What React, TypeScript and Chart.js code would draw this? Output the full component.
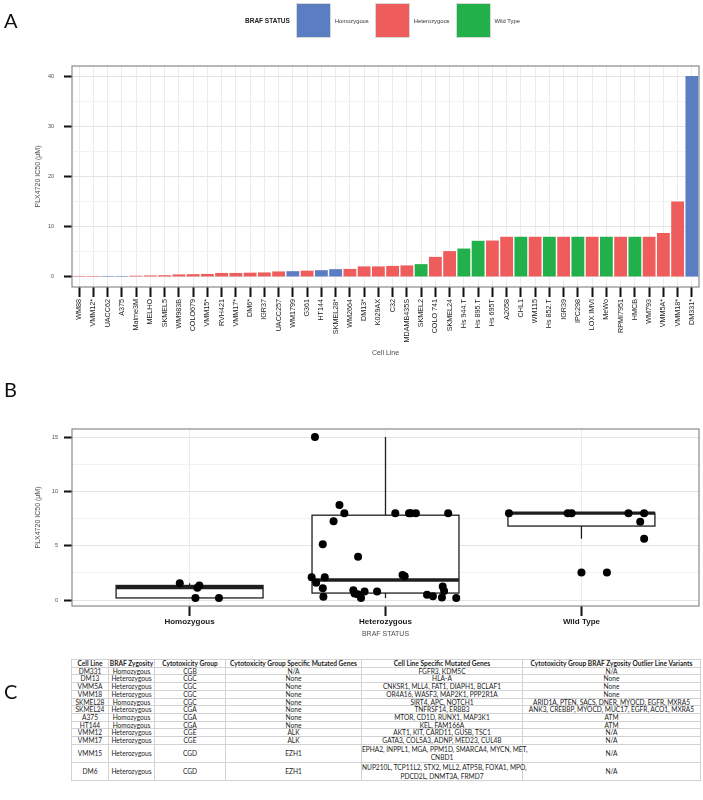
import React, { useEffect, useRef } from "react";
import { Chart, registerables } from "chart.js";
Chart.register(...registerables);

// ---------- Panel A data ----------
const cellLines = ["WM88","VMM12*","UACC62","A375","Malme3M","MELHO","SKMEL5","WM983B","COLO679","VMM15*","RVH421","VMM17*","DM6*","IGR37","UACC257","WM1799","G361","HT144","SKMEL28*","WM2664","DM13*","K029AX","C32","MDAMB435S","SKMEL2","COLO 741","SKMEL24","Hs 944.T","Hs 895.T","Hs 695T","A2058","CHL1","WM115","Hs 852.T","IGR39","IPC298","LOX IMVI","MeWo","RPMI7951","HMCB","WM793","VMM5A*","VMM18*","DM331*"];
const ic50 = [0.2,0.2,0.2,0.2,0.25,0.3,0.35,0.5,0.55,0.6,0.8,0.8,0.85,0.9,1.1,1.15,1.25,1.35,1.55,1.6,2.1,2.1,2.2,2.3,2.55,4.0,5.15,5.65,7.2,7.25,8,8,8,8,8,8,8,8,8,8,8,8.75,15,40];
const brafStatus = ["Heterozygous","Heterozygous","Homozygous","Homozygous","Heterozygous","Heterozygous","Heterozygous","Heterozygous","Heterozygous","Heterozygous","Heterozygous","Heterozygous","Heterozygous","Heterozygous","Heterozygous","Homozygous","Heterozygous","Homozygous","Homozygous","Heterozygous","Heterozygous","Heterozygous","Heterozygous","Heterozygous","Wild Type","Heterozygous","Heterozygous","Wild Type","Wild Type","Heterozygous","Heterozygous","Wild Type","Heterozygous","Wild Type","Heterozygous","Wild Type","Heterozygous","Wild Type","Heterozygous","Wild Type","Heterozygous","Heterozygous","Heterozygous","Homozygous"];
const statusNames = ["Homozygous","Heterozygous","Wild Type"];
const statusColors = ["#5b7dc2","#ee5c5b","#22b04b"];
const yTicksA = [0,5,10,15,20,25,30,35,40];

// ---------- Panel B data ----------
const homValues = [1.55,1.15,1.35,0.2,0.2];
const homJitter = [-0.05,0.04,0.05,0.03,0.15];
const hetValues = [15,8.75,8,7.25,5.15,4.0,8,8,8,8,8,2.3,2.2,2.1,2.1,1.6,1.1,1.25,0.9,0.85,0.8,0.8,0.6,0.55,0.5,0.35,0.3,0.25,0.2,0.2];
const hetJitter = [-0.36,-0.235,-0.21,-0.265,-0.32,-0.14,0.05,0.12,0.13,0.155,0.32,0.087,0.098,-0.377,-0.31,-0.354,-0.32,0.292,-0.164,0.299,-0.043,-0.107,-0.158,-0.142,0.212,0.242,-0.317,0.288,0.361,-0.125];
const wtValues = [8,8,8,8,8,7.2,5.65,2.55];
const wtJitter = [-0.37,-0.07,-0.05,0.24,0.32,0.30,0.32,0.13];
const yTicksB = [0,2.5,5,7.5,10,12.5,15];

// ---------- Panel C data ----------
const tableHeader = ["Cell Line","BRAF Zygosity","Cytotoxicity Group","Cytotoxicity Group Specific Mutated Genes","Cell Line Specific Mutated Genes","Cytotoxicity Group BRAF Zygosity Outlier Line Variants"];
const tCellLine = ["DM331","DM13","VMM5A","VMM18","SKMEL28","SKMEL24","A375","HT144","VMM12","VMM17","VMM15","DM6"];
const tZygosity = ["Homozygous","Heterozygous","Heterozygous","Heterozygous","Homozygous","Heterozygous","Homozygous","Homozygous","Heterozygous","Heterozygous","Heterozygous","Heterozygous"];
const tGroup = ["CGB","CGC","CGC","CGC","CGC","CGA","CGA","CGA","CGE","CGE","CGD","CGD"];
const tGroupGenes = ["N/A","None","None","None","None","None","None","None","ALK","ALK","EZH1","EZH1"];
const tLineGenes = ["FGFR3, KDM5C","HLA-A","CNKSR1, MLL4, FAT1, DIAPH1, BCLAF1","OR4A16, WASF3, MAP2K1, PPP2R1A","SIRT4,  APC, NOTCH1","TNFRSF14, ERBB3","MTOR, CD1D, RUNX1, MAP3K1","KEL, FAM166A","AKT1, KIT, CARD11, GUSB, TSC1","GATA3, COL5A3, ADNP, MED23, CUL4B","EPHA2, INPPL1, MGA, PPM1D, SMARCA4, MYCN, MET,\nCNBD1","NUP210L, TCP11L2, STX2, MLL2, ATP5B, FOXA1, MPO,\nPDCD2L, DNMT3A, FRMD7"];
const tOutlier = ["N/A","None","None","None","ARID1A, PTEN, SACS, DNER, MYOCD, EGFR, MXRA5","ANK3, CREBBP, MYOCD, MUC17, EGFR, ACO1, MXRA5","ATM","ATM","N/A","N/A","N/A","N/A"];
const colWidths = [37,46,71,136,161,178];

const FONT = "'Liberation Sans', Arial, sans-serif";

function quantile(s: number[], p: number) {
  const pos = (s.length - 1) * p;
  const lo = Math.floor(pos), hi = Math.ceil(pos);
  return s[lo] + (s[hi] - s[lo]) * (pos - lo);
}
function boxStats(values: number[]) {
  const s = [...values].sort((a, b) => a - b);
  const q1 = quantile(s, 0.25), med = quantile(s, 0.5), q3 = quantile(s, 0.75);
  const iqr = q3 - q1;
  const lo = q1 - 1.5 * iqr, hi = q3 + 1.5 * iqr;
  const inside = s.filter(v => v >= lo && v <= hi);
  return { q1, med, q3, wLo: Math.min(...inside), wHi: Math.max(...inside), out: s.filter(v => v < lo || v > hi) };
}

const panelBorder = {
  id: "panelBorder",
  afterDraw(chart: any) {
    const { ctx, chartArea: a } = chart;
    ctx.save();
    ctx.strokeStyle = "#8a8a8a";
    ctx.lineWidth = 1.2;
    ctx.strokeRect(a.left, a.top, a.right - a.left, a.bottom - a.top);
    ctx.restore();
  },
};

const groupValues = [homValues, hetValues, wtValues];
const groupJitter = [homJitter, hetJitter, wtJitter];

const boxPlugin = {
  id: "boxes",
  beforeDatasetsDraw(chart: any) {
    const { ctx, scales } = chart;
    const x = scales.x, y = scales.y;
    groupValues.forEach((vals, i) => {
      const st = boxStats(vals);
      const cx = x.getPixelForValue(i + 1);
      const hw = x.getPixelForValue(i + 1 + 0.375) - cx;
      const top = y.getPixelForValue(st.q3), bot = y.getPixelForValue(st.q1);
      ctx.save();
      ctx.strokeStyle = "#1e1e1e";
      ctx.lineWidth = 1.3;
      ctx.beginPath();
      ctx.moveTo(cx, top); ctx.lineTo(cx, y.getPixelForValue(st.wHi));
      ctx.moveTo(cx, bot); ctx.lineTo(cx, y.getPixelForValue(st.wLo));
      ctx.stroke();
      ctx.fillStyle = "#ffffff";
      ctx.fillRect(cx - hw, top, 2 * hw, bot - top);
      ctx.strokeRect(cx - hw, top, 2 * hw, bot - top);
      ctx.lineWidth = 3.4;
      const my = y.getPixelForValue(st.med);
      ctx.beginPath(); ctx.moveTo(cx - hw, my); ctx.lineTo(cx + hw, my); ctx.stroke();
      ctx.fillStyle = "#000";
      st.out.forEach(v => {
        ctx.beginPath(); ctx.arc(cx, y.getPixelForValue(v), 4, 0, Math.PI * 2); ctx.fill();
      });
      ctx.restore();
    });
  },
};

export default function App() {
  const refA = useRef<HTMLCanvasElement>(null);
  const refB = useRef<HTMLCanvasElement>(null);

  useEffect(() => {
    const chartA = new Chart(refA.current!, {
      type: "bar",
      data: {
        labels: cellLines,
        datasets: [{
          data: ic50,
          backgroundColor: brafStatus.map(s => statusColors[statusNames.indexOf(s)]),
          barPercentage: 0.9,
          categoryPercentage: 1,
        }],
      },
      options: {
        animation: false,
        responsive: false,
        layout: { padding: { top: 66, right: 4, left: 0, bottom: 0 } },
        plugins: { legend: { display: false }, tooltip: { enabled: false } },
        scales: {
          x: {
            offset: true,
            grid: { offset: false, color: "#ebebeb", lineWidth: 1, tickColor: "#111", tickWidth: 2, tickLength: 10 },
            border: { display: false },
            ticks: { autoSkip: false, maxRotation: 90, minRotation: 90, padding: 2, color: "#222", font: { size: 7.2, family: FONT } },
            title: { display: true, text: "Cell Line", color: "#4d4d4d", font: { size: 7, family: FONT }, padding: { top: 0, bottom: 5 } },
            afterFit: (s: any) => { s.height = 75; },
          },
          y: {
            min: -2, max: 42,
            afterBuildTicks: (s: any) => { s.ticks = yTicksA.map(v => ({ value: v })); },
            grid: {
              color: (c: any) => (c.tick && c.tick.value % 10 === 0 ? "#e4e4e4" : "#f2f2f2"),
              tickColor: (c: any) => (c.tick && c.tick.value % 10 === 0 ? "#111" : "rgba(0,0,0,0)"),
              tickWidth: 2, tickLength: 8,
            },
            border: { display: false },
            ticks: { callback: (v: any) => (Number(v) % 10 === 0 ? String(v) : ""), padding: 10, color: "#4d4d4d", font: { size: 5.5, family: FONT } },
            title: { display: true, text: "PLX4720 IC50 (μM)", color: "#4d4d4d", font: { size: 7, family: FONT }, padding: { top: 34, bottom: 0 } },
            afterFit: (s: any) => { s.width = 72; },
          },
        },
      },
      plugins: [panelBorder],
    } as any);

    const pts: { x: number; y: number }[] = [];
    groupValues.forEach((vals, i) => vals.forEach((v, j) => pts.push({ x: i + 1 + groupJitter[i][j], y: v })));

    const chartB = new Chart(refB.current!, {
      type: "scatter",
      data: { datasets: [{ data: pts, backgroundColor: "#000", borderWidth: 0, pointRadius: 4 }] },
      options: {
        animation: false,
        responsive: false,
        layout: { padding: { top: 29, right: 3, left: 0, bottom: 0 } },
        plugins: { legend: { display: false }, tooltip: { enabled: false } },
        scales: {
          x: {
            type: "linear", min: 0.4, max: 3.6,
            afterBuildTicks: (s: any) => { s.ticks = [1, 2, 3].map(v => ({ value: v })); },
            grid: { color: "#ebebeb", tickColor: "#111", tickWidth: 2, tickLength: 10 },
            border: { display: false },
            ticks: { callback: (v: any) => statusNames[Number(v) - 1], padding: 1, color: "#1a1a1a", font: { size: 8, weight: "bold", family: FONT } },
            title: { display: true, text: "BRAF STATUS", color: "#4d4d4d", font: { size: 7, family: FONT }, padding: { top: 0, bottom: 7 } },
            afterFit: (s: any) => { s.height = 39; },
          },
          y: {
            min: -0.54, max: 15.74,
            afterBuildTicks: (s: any) => { s.ticks = yTicksB.map(v => ({ value: v })); },
            grid: {
              color: (c: any) => (c.tick && c.tick.value % 5 === 0 ? "#e4e4e4" : "#f2f2f2"),
              tickColor: (c: any) => (c.tick && c.tick.value % 5 === 0 ? "#111" : "rgba(0,0,0,0)"),
              tickWidth: 2, tickLength: 8,
            },
            border: { display: false },
            ticks: { callback: (v: any) => (Number(v) % 5 === 0 ? String(v) : ""), padding: 6, color: "#4d4d4d", font: { size: 5.5, family: FONT } },
            title: { display: true, text: "PLX4720 IC50 (μM)", color: "#4d4d4d", font: { size: 7, family: FONT }, padding: { top: 34, bottom: 0 } },
            afterFit: (s: any) => { s.width = 72; },
          },
        },
      },
      plugins: [boxPlugin, panelBorder],
    } as any);

    return () => { chartA.destroy(); chartB.destroy(); };
  }, []);

  const letter: React.CSSProperties = { position: "absolute", left: 4, fontFamily: "Lato, 'Open Sans', sans-serif", fontSize: 20, lineHeight: "20px", color: "#111" };
  const cell: React.CSSProperties = { border: "1px solid #d2d2d2", padding: 0, lineHeight: "6.7px", textAlign: "center", whiteSpace: "nowrap" };

  return (
    <div style={{ position: "absolute", left: 0, top: 0, width: 703, height: 800, overflow: "hidden", background: "#fff" }}>
      <canvas ref={refA} width={703} height={362} style={{ position: "absolute", left: 0, top: 0, width: 703, height: 362 }} />
      <canvas ref={refB} width={703} height={245} style={{ position: "absolute", left: 0, top: 400, width: 703, height: 245 }} />
      <div style={{ ...letter, top: 10 }}>A</div>
      <div style={{ ...letter, top: 379 }}>B</div>
      <div style={{ ...letter, top: 681 }}>C</div>
      <div style={{ position: "absolute", left: 245, top: 3, height: 35, display: "flex", alignItems: "center", fontFamily: FONT, color: "#222" }}>
        <span style={{ fontSize: 6.5, fontWeight: "bold", marginRight: 6 }}>BRAF STATUS</span>
        {statusNames.map((n, i) => (
          <React.Fragment key={n}>
            <span style={{ display: "inline-block", width: 35, height: 35, background: statusColors[i], boxSizing: "border-box", border: "1px solid #d8d8d8", marginLeft: i === 0 ? 0 : 6 }} />
            <span style={{ fontSize: 5.8, marginLeft: 4, color: "#333" }}>{n}</span>
          </React.Fragment>
        ))}
      </div>
      <table style={{ position: "absolute", left: 71, top: 659, borderCollapse: "collapse", tableLayout: "fixed", width: colWidths.reduce((a, b) => a + b, 0), fontFamily: "Lato, 'Open Sans', sans-serif", fontSize: 6.6, color: "#222" }}>
        <colgroup>{colWidths.map((w, i) => <col key={i} style={{ width: w }} />)}</colgroup>
        <thead>
          <tr>{tableHeader.map(h => <th key={h} style={{ ...cell, fontWeight: "bold" }}>{h}</th>)}</tr>
        </thead>
        <tbody>
          {tCellLine.map((c, r) => {
            const twoLine = tLineGenes[r].includes("\n");
            return (
              <tr key={c}>
                {[c, tZygosity[r], tGroup[r], tGroupGenes[r], tLineGenes[r], tOutlier[r]].map((t, k) => (
                  <td key={k} style={{ ...cell, lineHeight: twoLine ? "8.6px" : "6.7px", height: twoLine ? 17.2 : undefined }}>
                    {t.split("\n").map((line, li) => <React.Fragment key={li}>{li > 0 && <br />}{line}</React.Fragment>)}
                  </td>
                ))}
              </tr>
            );
          })}
        </tbody>
      </table>
    </div>
  );
}
